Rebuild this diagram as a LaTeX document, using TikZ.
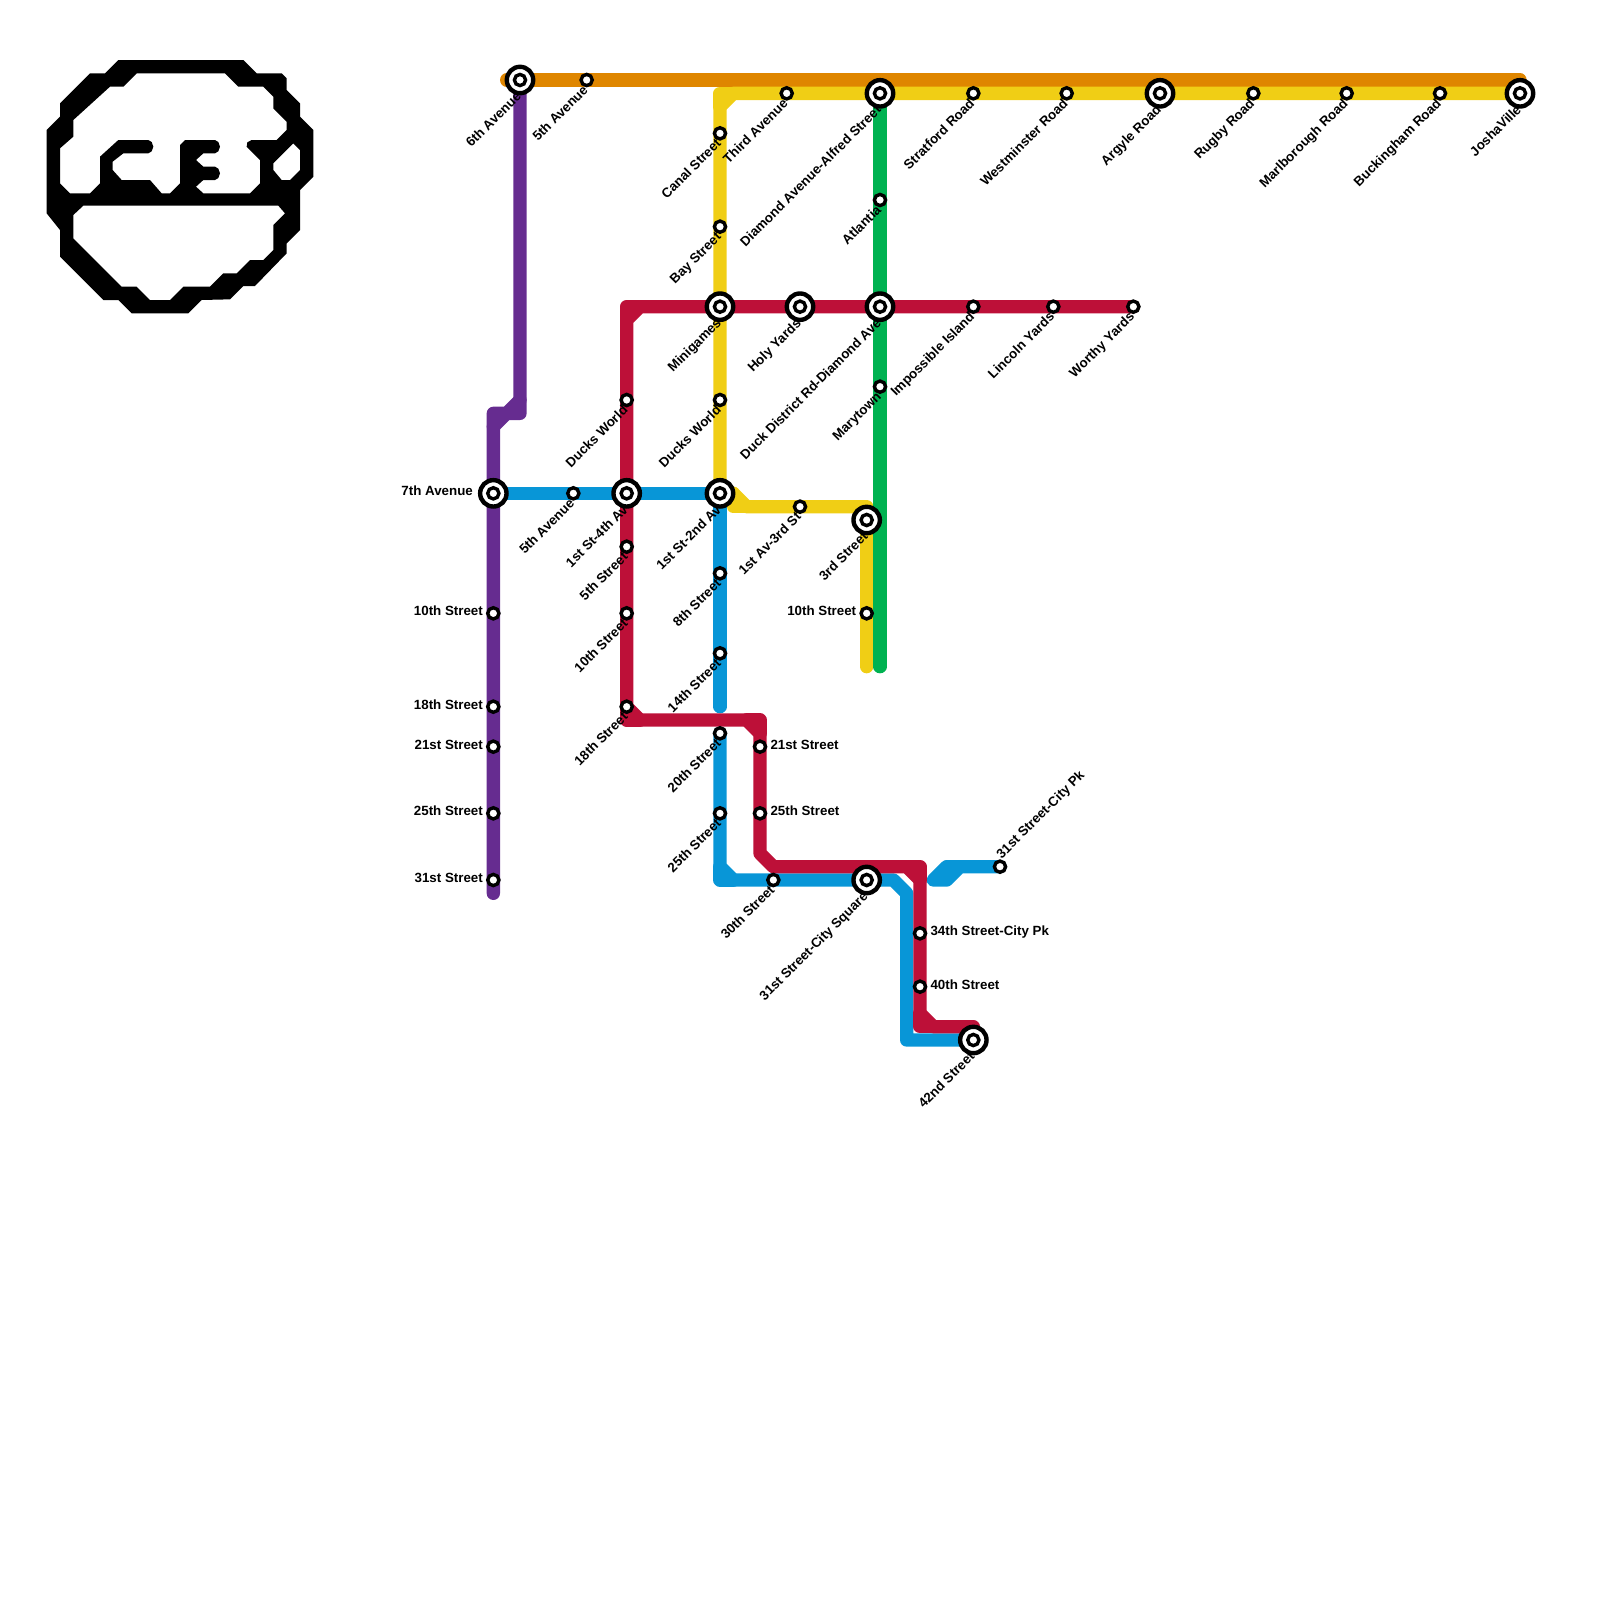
\documentclass[tikz,border=0pt]{standalone}
\usepackage{fontspec}
\setmainfont{Liberation Sans}
\usetikzlibrary{backgrounds}

% ── colours ──
\definecolor{orangeline}{HTML}{DF8600}
\definecolor{yellowline}{HTML}{F0CE15}
\definecolor{redline}{HTML}{BD1038}
\definecolor{purpleline}{HTML}{662C90}
\definecolor{blueline}{HTML}{0896D7}
\definecolor{greenline}{HTML}{00B251}

\begin{document}
\begin{tikzpicture}[
    x=13.3333pt, y=-13.3333pt,
    % line and station styles
    metro/.style={
        line width=13.3333pt, draw=#1, line cap=round, line join=round
    },
    stn/.style={
        circle, draw=black, fill=white, line width=3.4pt,
        minimum size=11.2pt, inner sep=0pt, outer sep=0pt
    },
    bigstn/.style={
        circle, draw=black, fill=white, line width=4.4pt,
        minimum size=26.4pt, inner sep=0pt, outer sep=0pt,
        path picture={
            \draw[line width=3.4pt] (path picture bounding box.center) circle (5.6pt);
        }
    },
    lbl/.style={
        font=\bfseries\fontsize{13.33pt}{15pt}\selectfont, text=black,
        inner sep=0pt, outer sep=0pt
    },
    lbw/.style={lbl, anchor=mid east, xshift=-#1},
    lbw/.default=10.5pt,
    lbe/.style={lbl, anchor=mid west, xshift=#1},
    lbe/.default=10.5pt,
    lbsw/.style={lbl, anchor=mid east, rotate=45, xshift=-#1, yshift=-#1},
    lbsw/.default=6.5pt,
    lbne/.style={lbl, anchor=mid west, rotate=45, xshift=#1, yshift=#1},
    lbne/.default=6.5pt
]

\useasboundingbox (0,0) rectangle (120,120);

% ════════ orange and purple ════════
\node[bigstn] (sixth)  at (39,6) {};
\node[stn]    (fifthn) at (44,6) {};
\node[lbsw=11pt] (sixthl)  at (sixth)  {6th Avenue};
\node[lbsw]      (fifthnl) at (fifthn) {5th Avenue};

\node[bigstn] (seventh) at (37,37) {};
\node[stn] (ptenth)  at (37,46) {};
\node[stn] (peight)  at (37,53) {};
\node[stn] (ptwone)  at (37,56) {};
\node[stn] (ptwfive) at (37,61) {};
\node[stn] (pthone)  at (37,66) {};
\node[lbw=20.5pt] (seventhl) at (seventh) {7th Avenue};
\node[lbw] (ptenthl)  at (ptenth)  {10th Street};
\node[lbw] (peightl)  at (peight)  {18th Street};
\node[lbw] (ptwonel)  at (ptwone)  {21st Street};
\node[lbw] (ptwfivel) at (ptwfive) {25th Street};
\node[lbw] (pthonel)  at (pthone)  {31st Street};

% ════════ yellow ════════
\node[stn]    (canal)   at (54,10) {};
\node[stn]    (bay)     at (54,17) {};
\node[bigstn] (mini)    at (54,23) {};
\node[stn]    (yducks)  at (54,30) {};
\node[bigstn] (firsttwo) at (54,37) {};
\node[stn]    (third)   at (59,7) {};
\node[bigstn] (diamond) at (66,7) {};
\node[stn]    (strat)   at (73,7) {};
\node[stn]    (west)    at (80,7) {};
\node[bigstn] (argyle)  at (87,7) {};
\node[stn]    (rugby)   at (94,7) {};
\node[stn]    (marl)    at (101,7) {};
\node[stn]    (buck)    at (108,7) {};
\node[bigstn] (josha)   at (114,7) {};
\node[stn]    (firstav) at (60,38) {};
\node[bigstn] (thirdst) at (65,39) {};
\node[stn]    (ytenth)  at (65,46) {};
\node[lbsw] (canall)  at (canal)  {Canal Street};
\node[lbsw] (bayl)    at (bay)    {Bay Street};
\node[lbsw=11pt] (minil) at (mini) {Minigames};
\node[lbsw] (yducksl) at (yducks) {Ducks World};
\node[lbsw=11pt] (firsttwol) at (firsttwo) {1st St-2nd Av};
\node[lbsw] (thirdl)  at (third)  {Third Avenue};
\node[lbsw=11pt] (diamondl) at (diamond) {Diamond Avenue-Alfred Street};
\node[lbsw] (stratl)  at (strat)  {Stratford Road};
\node[lbsw] (westl)   at (west)   {Westminster Road};
\node[lbsw=11pt] (argylel) at (argyle) {Argyle Road};
\node[lbsw] (rugbyl)  at (rugby)  {Rugby Road};
\node[lbsw] (marll)   at (marl)   {Marlborough Road};
\node[lbsw] (buckl)   at (buck)   {Buckingham Road};
\node[lbsw=11pt] (joshal) at (josha) {JoshaVille};
\node[lbsw] (firstavl) at (firstav) {1st Av-3rd St};
\node[lbsw=11pt] (thirdstl) at (thirdst) {3rd Street};
\node[lbw] (ytenthl) at (ytenth) {10th Street};

% ════════ green ════════
\node[stn]    (atlantia) at (66,15) {};
\node[bigstn] (duck)     at (66,23) {};
\node[stn]    (mary)     at (66,29) {};
\node[lbsw] (atlantial) at (atlantia) {Atlantia};
\node[lbsw=11pt] (duckl) at (duck) {Duck District Rd-Diamond Ave};
\node[lbsw] (maryl) at (mary) {Marytown};

% ════════ red ════════
\node[bigstn] (holy)   at (60,23) {};
\node[stn] (imposs)    at (73,23) {};
\node[stn] (lincoln)   at (79,23) {};
\node[stn] (worthy)    at (85,23) {};
\node[stn] (rducks)    at (47,30) {};
\node[bigstn] (firstfour) at (47,37) {};
\node[stn] (rfifth)    at (47,41) {};
\node[stn] (rtenth)    at (47,46) {};
\node[stn] (reight)    at (47,53) {};
\node[stn] (rtwone)    at (57,56) {};
\node[stn] (rtwfive)   at (57,61) {};
\node[stn] (rthfour)   at (69,70) {};
\node[stn] (rforty)    at (69,74) {};
\node[bigstn] (fortytwo) at (73,78) {};
\node[lbsw=11pt] (holyl) at (holy) {Holy Yards};
\node[lbsw] (impossl)  at (imposs)  {Impossible Island};
\node[lbsw] (lincolnl) at (lincoln) {Lincoln Yards};
\node[lbsw] (worthyl)  at (worthy)  {Worthy Yards};
\node[lbsw] (rducksl)  at (rducks)  {Ducks World};
\node[lbsw=11pt] (firstfourl) at (firstfour) {1st St-4th Av};
\node[lbsw] (rfifthl)  at (rfifth)  {5th Street};
\node[lbsw] (rtenthl)  at (rtenth)  {10th Street};
\node[lbsw] (reightl)  at (reight)  {18th Street};
\node[lbe]  (rtwonel)  at (rtwone)  {21st Street};
\node[lbe]  (rtwfivel) at (rtwfive) {25th Street};
\node[lbe]  (rthfourl) at (rthfour) {34th Street-City Pk};
\node[lbe]  (rfortyl)  at (rforty)  {40th Street};
\node[lbsw=11pt] (fortytwol) at (fortytwo) {42nd Street};

% ════════ blue ════════
\node[stn] (bfifth)  at (43,37) {};
\node[stn] (beight)  at (54,43) {};
\node[stn] (bfourt)  at (54,49) {};
\node[stn] (btwent)  at (54,55) {};
\node[stn] (btwfive) at (54,61) {};
\node[stn] (bthirty) at (58,66) {};
\node[bigstn] (cityq) at (65,66) {};
\node[stn] (citypk)  at (75,65) {};
\node[lbsw] (bfifthl)  at (bfifth)  {5th Avenue};
\node[lbsw] (beightl)  at (beight)  {8th Street};
\node[lbsw] (bfourtl)  at (bfourt)  {14th Street};
\node[lbsw] (btwentl)  at (btwent)  {20th Street};
\node[lbsw] (btwfivel) at (btwfive) {25th Street};
\node[lbsw] (bthirtyl) at (bthirty) {30th Street};
\node[lbsw=11pt] (cityql) at (cityq) {31st Street-City Square};
\node[lbne] (citypkl)  at (citypk)  {31st Street-City Pk};

% ════════ lines (background) ════════
\begin{scope}[on background layer]
    % orange
    \draw[metro=orangeline] (38,6) -- (sixth.center) -- (fifthn.center) -- (114,6);
    % purple
    \draw[metro=purpleline] (sixth.center) -- (39,31) -- (38,31) -- (37,32) -- (seventh.center) -- (37,67);
    \draw[metro=purpleline] (37,32) -- (37,31) -- (38,31) -- (39,30);
    % yellow
    \draw[metro=yellowline] (josha.center) -- (third.center) -- (55,7) -- (54,8) -- (firsttwo.center)
        -- (55,37) -- (56,38) -- (65,38) -- (thirdst.center) -- (65,50);
    \draw[metro=yellowline] (54,8) -- (54,7) -- (55,7);
    \draw[metro=yellowline] (55,37) -- (55,38) -- (56,38);
    % green
    \draw[metro=greenline] (diamond.center) -- (66,50);
    % blue
    \draw[metro=blueline] (seventh.center) -- (firsttwo.center) -- (54,53);
    \draw[metro=blueline] (btwent.center) -- (54,65) -- (55,66) -- (67,66) -- (68,67) -- (68,78) -- (fortytwo.center);
    \draw[metro=blueline] (54,65) -- (54,66) -- (55,66);
    \draw[metro=blueline] (citypk.center) -- (72,65) -- (71,66) -- (70,66) -- (71,65) -- (72,65);
    % red
    \draw[metro=redline] (worthy.center) -- (48,23) -- (47,24) -- (reight.center) -- (48,54) -- (56,54)
        -- (57,55) -- (57,64) -- (58,65) -- (68,65) -- (69,66) -- (69,76) -- (70,77) -- (73,77);
    \draw[metro=redline] (47,24) -- (47,23) -- (48,23);
    \draw[metro=redline] (47,53) -- (47,54) -- (48,54);
    \draw[metro=redline] (56,54) -- (57,54) -- (57,55);
    \draw[metro=redline] (68,65) -- (69,65) -- (69,66);
    \draw[metro=redline] (69,76) -- (69,77) -- (70,77);
\end{scope}

% ════════ logo ════════
\begin{scope}[x=0.33333pt, y=-0.33333pt, shift={(30pt,-40pt)}]
    \fill[black, even odd rule]
        (265,60) -- (640,60) -- (680,100) -- (755,100) -- (770,115) -- (770,150) -- (810,190)
        -- (810,230) -- (850,270) -- (850,410) -- (810,450) -- (810,570) -- (770,610) -- (770,640)
        -- (675,738) -- (640,738) -- (600,778) -- (515,780) -- (475,820) -- (305,820) -- (265,780)
        -- (220,780) -- (90,650) -- (90,570) -- (50,520) -- (50,270) -- (90,230) -- (90,190)
        -- (180,100) -- (225,100) -- cycle
        (320,100) -- (585,100) -- (625,140) -- (700,140) -- (730,170) -- (730,205) -- (770,245)
        -- (770,270) -- (740,300) -- (665,300) -- (652,307) -- (650,320) -- (690,360) -- (690,430)
        -- (660,460) -- (520,460) -- (498,440) -- (520,420) -- (555,420) -- (565,414) -- (570,400)
        -- (565,386) -- (555,380) -- (520,380) -- (498,360) -- (520,340) -- (555,340) -- (565,334)
        -- (570,320) -- (565,306) -- (555,300) -- (465,300) -- (450,315) -- (450,430) -- (420,460)
        -- (395,460) -- (360,420) -- (275,420) -- (248,390) -- (248,365) -- (280,340) -- (355,340)
        -- (365,334) -- (370,320) -- (365,306) -- (355,300) -- (265,300) -- (210,350) -- (210,430)
        -- (180,460) -- (120,460) -- (90,430) -- (90,325) -- (130,290) -- (130,240) -- (240,140)
        -- (280,140) -- cycle
        (790,310) -- (810,330) -- (810,390) -- (780,420) -- (755,420) -- (730,390) -- (730,370) -- cycle
        (160,497) -- (745,497) -- (765,520) -- (730,555) -- (730,630) -- (700,660) -- (660,660)
        -- (620,700) -- (580,700) -- (540,740) -- (460,740) -- (420,780) -- (360,780) -- (320,740)
        -- (275,740) -- (130,595) -- (130,525) -- cycle;
\end{scope}

\end{tikzpicture}
\end{document}
